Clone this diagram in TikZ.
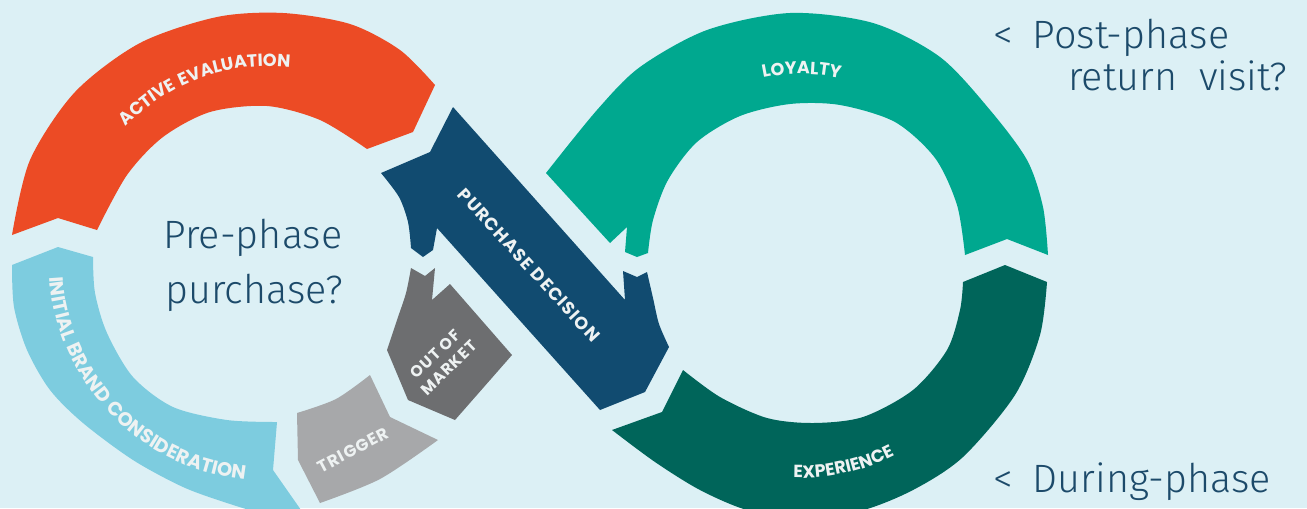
\documentclass[tikz,border=0pt]{standalone}
\usepackage{fontspec}
\usepackage{tikz}
\usetikzlibrary{decorations.text}
\newfontfamily\handfont{Fira Sans Light}
\newfontfamily\lblfont{Poppins}[LetterSpace=7]
\definecolor{bgblue}{RGB}{220,240,245}
\definecolor{evalorange}{RGB}{236,75,37}
\definecolor{brandblue}{RGB}{125,204,223}
\definecolor{triggergrey}{RGB}{167,168,170}
\definecolor{marketgrey}{RGB}{109,110,112}
\definecolor{decisionnavy}{RGB}{17,75,112}
\definecolor{loyaltyteal}{RGB}{0,168,143}
\definecolor{experiencegreen}{RGB}{0,101,90}
\definecolor{ink}{RGB}{28,74,106}
\definecolor{labelwhite}{RGB}{238,242,242}
\newcommand{\lbltext}{\lblfont\bfseries\fontsize{10}{11}\selectfont}
\newcommand{\lblwide}{\lblfont\bfseries\fontsize{11}{12}\selectfont}

\begin{document}
\begin{tikzpicture}[x=0.02cm,y=-0.02cm,
    hand/.style={text=ink,inner sep=0pt,font=\handfont\fontsize{22.5}{26}\selectfont},
    seglabel/.style={text=labelwhite,inner sep=0pt,font=\lbltext},
    arclabel/.style={decorate,decoration={text along path,text align=center,
        text color=labelwhite,text={|\lbltext|#1}}},
    widearclabel/.style={decorate,decoration={text along path,text align=center,
        text color=labelwhite,text={|\lblwide|#1}}}]
    \useasboundingbox (0,0) rectangle (1307,508);
    \fill[bgblue] (0,0) rectangle (1307,508);
    \clip (0,0) rectangle (1307,508);
    % left loop
    \fill[evalorange] plot[smooth] coordinates {(12,235) (30,160) (75,92) (140,43) (217,17) (283,13) (350,24) (400,50) (435,85)}
        -- (413,132) -- plot[smooth] coordinates {(367,149) (320,120) (267,106) (210,112) (163,137) (127,175) (97,230)}
        -- (58,218) -- cycle;
    \fill[brandblue] (12,265) -- (58,247) -- plot[smooth] coordinates {(93,257) (95,293) (107,333) (133,377) (173,407) (227,420) (277,422)}
        -- (273,470) -- plot[smooth] coordinates {(308,520) (265,514) (227,503) (183,487) (133,460) (83,423) (50,390) (27,350) (14,307) (12,265)}
        -- cycle;
    \fill[triggergrey] plot[smooth] coordinates {(297,413) (336,399) (370,375)} -- (390,417)
        -- plot[smooth] coordinates {(438,440) (380,479) (320,503)} -- (298,460) -- cycle;
    \fill[marketgrey] (411,268) -- (425,276) -- (435,268) -- (432,300) -- (450,284) -- (512,355) -- (455,420) -- (408,400)
        -- plot[smooth] coordinates {(387,350) (397,320) (406,293) (411,268)} -- cycle;
    % purchase decision
    \fill[decisionnavy] (453,107) -- (625,300) -- (623,271) -- (637,277)
        -- plot[smooth] coordinates {(647,272) (653,298) (659,324) (669,347)} -- (645,392) -- (600,410)
        -- (437,228) -- (433,250) -- (423,257)
        -- plot[smooth] coordinates {(411,248) (408,222) (399,197) (381,173)} -- (430,152) -- cycle;
    % right loop
    \fill[loyaltyteal] plot[smooth] coordinates {(546,173) (597,110) (640,67) (707,30) (790,13) (873,23) (940,57) (990,110) (1027,160) (1043,207) (1048,255)}
        -- (1007,239) -- plot[smooth] coordinates {(965,255) (957,205) (935,158) (895,122) (840,105) (790,104) (740,116) (697,142) (668,180) (653,220) (648,253)}
        -- (637,257) -- (625,252) -- (627,227) -- (610,243) -- cycle;
    \fill[experiencegreen] (963,282) -- (1005,265)
        -- plot[smooth] coordinates {(1047,282) (1040,335) (1015,395) (963,457) (913,490) (860,511) (800,518) (747,510) (700,490) (655,462) (612,430)}
        -- (662,412) -- plot[smooth] coordinates {(683,370) (720,397) (767,418) (813,423) (863,417) (913,390) (947,350) (960,310) (963,282)}
        -- cycle;

    % labels on the bands
    \path[arclabel={ACTIVE EVALUATION}] plot[domain=215:285,samples=36] ({268+196*cos(\x)},{262+196*sin(\x)});
    \path[widearclabel={INITIAL BRAND CONSIDERATION}] plot[domain=183:89,samples=48] ({268+219*cos(\x)},{262+219*sin(\x)});
    \path[arclabel={LOYALTY}] plot[domain=240:301,samples=31] ({800+194*cos(\x)},{268+194*sin(\x)});
    \path[arclabel={EXPERIENCE}] plot[domain=112:43,samples=35] ({800+210*cos(\x)},{268+210*sin(\x)});
    \node[seglabel,rotate=-47.6] (decision) at (529,265) {PURCHASE DECISION};
    \node[seglabel,rotate=44,align=center,font=\lblfont\bfseries\fontsize{9}{11}\selectfont] (market) at (442,361) {OUT OF\\MARKET};
    \node[seglabel,rotate=28,font=\lblfont\bfseries\fontsize{9.5}{11}\selectfont] (trigger) at (353,450) {TRIGGER};

    % handwritten notes
    \node[hand,anchor=base] (prephase) at (253,248) {Pre-phase};
    \node[hand,anchor=base] (purchase) at (254,303) {purchase?};
    \node[hand,anchor=base west] (postphase) at (993,48) {<\enspace Post-phase};
    \node[hand,anchor=base west] (revisit) at (1068,90) {return~~visit?};
    \node[hand,anchor=base west] (duringphase) at (993,492) {<\enspace During-phase};
\end{tikzpicture}
\end{document}
